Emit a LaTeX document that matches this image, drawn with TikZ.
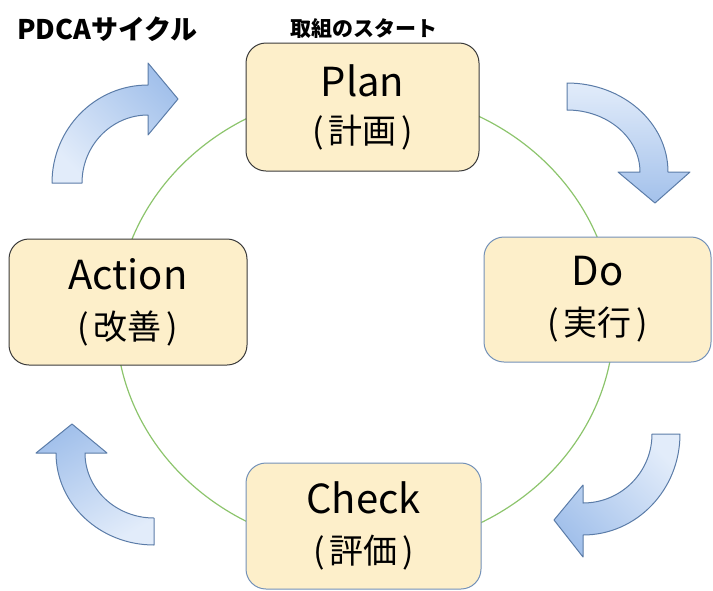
\documentclass[tikz,border=0pt]{standalone}
\usepackage{fontspec}
\setmainfont{Noto Sans CJK JP}
\definecolor{boxfill}{HTML}{FDEFCA}
\definecolor{darkedge}{HTML}{3A3A3A}
\definecolor{blueedge}{HTML}{7391B8}
\definecolor{ringgreen}{HTML}{8CC46C}
\definecolor{arrowedge}{HTML}{5B7CA8}
\definecolor{arrowlight}{HTML}{E2ECFA}
\definecolor{arrowdark}{HTML}{A3C1EB}
\tikzset{
  stagebox/.style={draw=#1, fill=boxfill, rounded corners=20pt, line width=1pt,
    align=center, inner sep=0pt, font=\fontsize{40}{50}\selectfont},
  blockarrow/.style={draw=arrowedge, line width=1pt, line join=round,
    top color=arrowdark, bottom color=arrowlight, shading angle=#1}
}
\newcommand{\cjkpart}[1]{{\fontsize{34}{50}\selectfont (\hspace{5pt}#1\hspace{5pt})}}
\begin{document}
\begin{tikzpicture}[x=1pt,y=-1pt]
\useasboundingbox (0,0) rectangle (713,590);
\clip (0,0) rectangle (713,590);
% ring
\draw[ringgreen, line width=1.2pt] (365,320) ellipse [x radius=249pt, y radius=229pt];
% boxes
\node[stagebox=darkedge, minimum width=233pt, minimum height=128pt] (plan) at (362.5,107) {Plan\\[-3pt]\cjkpart{計画}};
\node[stagebox=blueedge, minimum width=227pt, minimum height=125pt] (do) at (597.5,299.5) {Do\\\cjkpart{実行}};
\node[stagebox=darkedge, minimum width=238pt, minimum height=126pt] (action) at (128,302) {Action\\\cjkpart{改善}};
\node[stagebox=blueedge, minimum width=235pt, minimum height=126pt] (check) at (363.5,526) {Check\\\cjkpart{評価}};
% titles
\node[anchor=west, inner sep=0pt, font=\fontsize{27}{32}\selectfont\bfseries] (title) at (17,29) {PDCAサイクル};
\node[inner sep=0pt, font=\fontsize{21}{26}\selectfont\bfseries] (start) at (363.5,29) {取組のスタート};
% curved arrows
\draw[blockarrow=-45] (82,183) -- (52,183)
  arc[start angle=180, end angle=90, x radius=96pt, y radius=98pt]
  -- (148,63) -- (178,99) -- (148,135) -- (148,115)
  arc[start angle=90, end angle=180, x radius=66pt, y radius=68pt] -- cycle;
\draw[blockarrow=180] (567,83)
  arc[start angle=90, end angle=0, x radius=101pt, y radius=89pt]
  -- (690,172) -- (655,203) -- (618,172) -- (640,172)
  arc[start angle=0, end angle=90, x radius=73pt, y radius=62pt] -- cycle;
\draw[blockarrow=135] (680,434)
  arc[start angle=0, end angle=-90, x radius=97pt, y radius=101pt]
  -- (583,557) -- (554,520) -- (583,485) -- (583,503)
  arc[start angle=-90, end angle=0, x radius=69pt, y radius=69pt] -- cycle;
\draw[blockarrow=30] (154,545)
  arc[start angle=-90, end angle=-180, x radius=98pt, y radius=92pt]
  -- (36,453) -- (72,424) -- (107,453) -- (85,453)
  arc[start angle=180, end angle=270, x radius=69pt, y radius=65pt] -- cycle;
\end{tikzpicture}
\end{document}
